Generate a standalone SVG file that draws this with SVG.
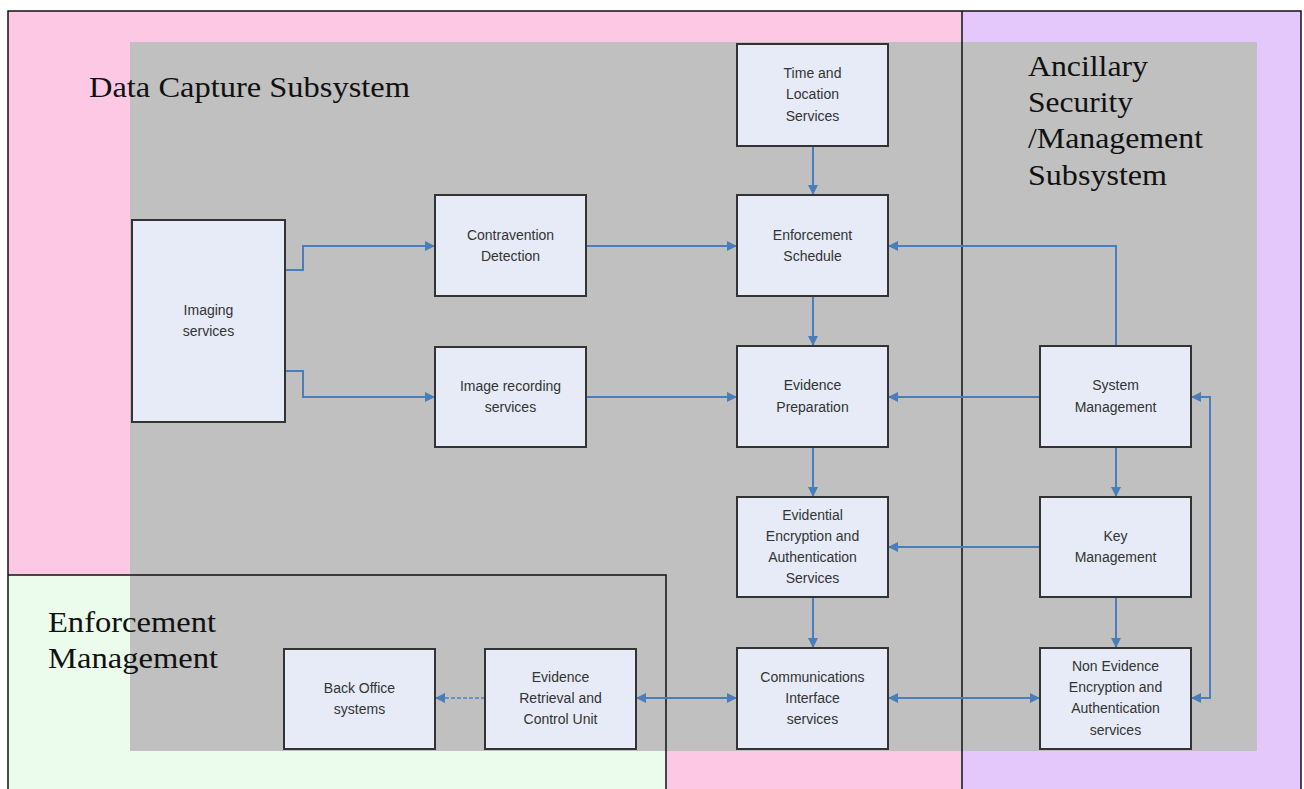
<svg xmlns="http://www.w3.org/2000/svg" width="1304" height="789" viewBox="0 0 1304 789">
<defs>
<style>
.box{fill:#e6ebf7;stroke:#333;stroke-width:2}
.t{font-family:"Liberation Sans",Arial,sans-serif;font-size:14px;fill:#333;text-anchor:middle}
.h{font-family:"Liberation Serif","Times New Roman",serif;font-size:30px;fill:#111}
.c{fill:none;stroke:#4a7ebb;stroke-width:2}
.frame{fill:none;stroke:#111;stroke-width:1.5}
</style>
<marker id="a" viewBox="0 0 10 10" refX="9" refY="5" markerWidth="5" markerHeight="5" orient="auto-start-reverse" markerUnits="strokeWidth">
<path d="M0,0 L10,5 L0,10 z" fill="#4a7ebb"/>
</marker>
</defs>
<rect width="1304" height="789" fill="#fff"/>
<g id="regions">
<rect x="8" y="11" width="954" height="778" fill="#fcc8e4"/>
<rect x="962" y="11" width="339" height="778" fill="#e4c8fc"/>
<rect x="8" y="575" width="658" height="214" fill="#ecfcec"/>
<rect x="130" y="42" width="1127" height="709" fill="#c0c0c0"/>
<path class="frame" d="M8,789 V11 H1301 V789 M962,11 V789 M8,575 H666 V789"/>
<text class="h" x="89" y="97" textLength="321" lengthAdjust="spacingAndGlyphs">Data Capture Subsystem</text>
<text class="h" x="1028" y="76" textLength="120" lengthAdjust="spacingAndGlyphs">Ancillary</text>
<text class="h" x="1028" y="112" textLength="105" lengthAdjust="spacingAndGlyphs">Security</text>
<text class="h" x="1028" y="148" textLength="175" lengthAdjust="spacingAndGlyphs">/Management</text>
<text class="h" x="1028" y="185" textLength="139" lengthAdjust="spacingAndGlyphs">Subsystem</text>
<text class="h" x="48" y="632" textLength="168" lengthAdjust="spacingAndGlyphs">Enforcement</text>
<text class="h" x="48" y="668" textLength="170" lengthAdjust="spacingAndGlyphs">Management</text>
</g>
<g id="connectors">
<path class="c" marker-end="url(#a)" d="M285,270 H303 V246 H434"/>
<path class="c" marker-end="url(#a)" d="M285,371 H303 V397 H434"/>
<path class="c" marker-end="url(#a)" d="M586,246 H736"/>
<path class="c" marker-end="url(#a)" d="M586,397 H736"/>
<path class="c" marker-end="url(#a)" d="M813,146 V194"/>
<path class="c" marker-end="url(#a)" d="M813,296 V345"/>
<path class="c" marker-end="url(#a)" d="M813,447 V496"/>
<path class="c" marker-end="url(#a)" d="M813,597 V647"/>
<path class="c" marker-end="url(#a)" d="M1116,346 V246 H889"/>
<path class="c" marker-end="url(#a)" d="M1040,397 H889"/>
<path class="c" marker-end="url(#a)" d="M1040,547 H889"/>
<path class="c" marker-end="url(#a)" d="M1116,447 V496"/>
<path class="c" marker-end="url(#a)" d="M1116,597 V647"/>
<path class="c" marker-start="url(#a)" marker-end="url(#a)" d="M637,698 H736"/>
<path class="c" marker-start="url(#a)" marker-end="url(#a)" d="M889,698 H1039"/>
<path class="c" marker-start="url(#a)" marker-end="url(#a)" d="M1192,397 H1210 V698 H1192"/>
<path class="c" marker-end="url(#a)" stroke-dasharray="4 2" stroke-opacity="0.7" d="M485,698 H436"/>
</g>
<g id="time"><rect class="box" x="737" y="44" width="151" height="102"/><text class="t" x="812.5" y="78">Time and</text><text class="t" x="812.5" y="99">Location</text><text class="t" x="812.5" y="121">Services</text></g>
<g id="schedule"><rect class="box" x="737" y="195" width="151" height="101"/><text class="t" x="812.5" y="240">Enforcement</text><text class="t" x="812.5" y="261">Schedule</text></g>
<g id="prep"><rect class="box" x="737" y="346" width="151" height="101"/><text class="t" x="812.5" y="390">Evidence</text><text class="t" x="812.5" y="412">Preparation</text></g>
<g id="evidential"><rect class="box" x="737" y="497" width="151" height="100"/><text class="t" x="812.5" y="520">Evidential</text><text class="t" x="812.5" y="541">Encryption and</text><text class="t" x="812.5" y="562">Authentication</text><text class="t" x="812.5" y="583">Services</text></g>
<g id="comms"><rect class="box" x="737" y="648" width="151" height="101"/><text class="t" x="812.5" y="682">Communications</text><text class="t" x="812.5" y="703">Interface</text><text class="t" x="812.5" y="724">services</text></g>
<g id="imaging"><rect class="box" x="132" y="220" width="153" height="202"/><text class="t" x="208.5" y="315">Imaging</text><text class="t" x="208.5" y="336">services</text></g>
<g id="contravention"><rect class="box" x="435" y="195" width="151" height="101"/><text class="t" x="510.5" y="240">Contravention</text><text class="t" x="510.5" y="261">Detection</text></g>
<g id="recording"><rect class="box" x="435" y="347" width="151" height="100"/><text class="t" x="510.5" y="391">Image recording</text><text class="t" x="510.5" y="412">services</text></g>
<g id="sysmgmt"><rect class="box" x="1040" y="346" width="151" height="101"/><text class="t" x="1115.5" y="390">System</text><text class="t" x="1115.5" y="412">Management</text></g>
<g id="keymgmt"><rect class="box" x="1040" y="497" width="151" height="100"/><text class="t" x="1115.5" y="541">Key</text><text class="t" x="1115.5" y="562">Management</text></g>
<g id="nonevidence"><rect class="box" x="1040" y="648" width="151" height="101"/><text class="t" x="1115.5" y="671">Non Evidence</text><text class="t" x="1115.5" y="692">Encryption and</text><text class="t" x="1115.5" y="713">Authentication</text><text class="t" x="1115.5" y="735">services</text></g>
<g id="backoffice"><rect class="box" x="284" y="649" width="151" height="100"/><text class="t" x="359.5" y="693">Back Office</text><text class="t" x="359.5" y="714">systems</text></g>
<g id="retrieval"><rect class="box" x="485" y="649" width="151" height="100"/><text class="t" x="560.5" y="682">Evidence</text><text class="t" x="560.5" y="703">Retrieval and</text><text class="t" x="560.5" y="724">Control Unit</text></g>
</svg>
